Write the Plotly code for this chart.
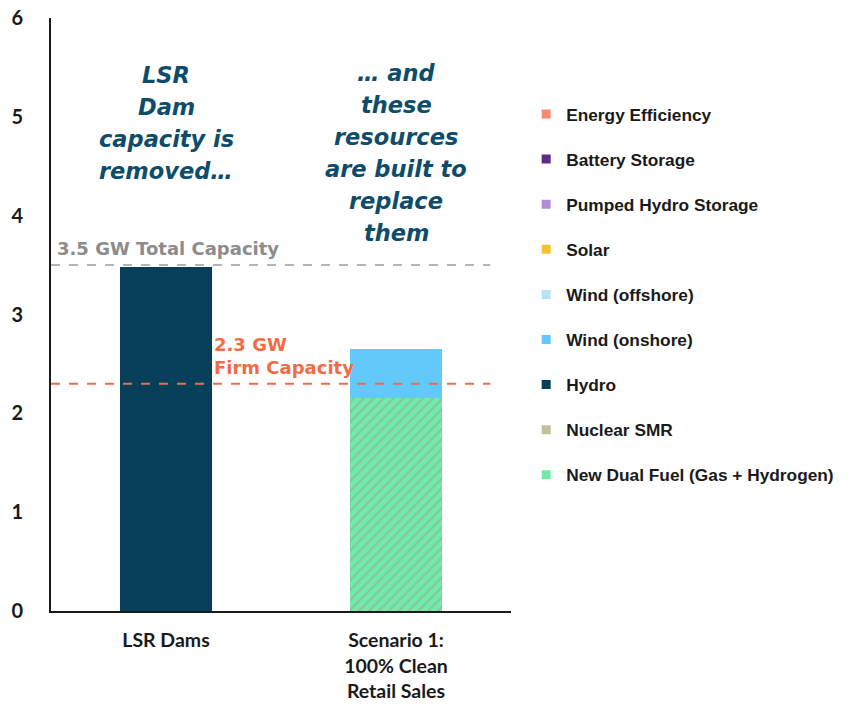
import plotly.graph_objects as go

# Categories on the x axis
categories = ["LSR Dams", "Scenario 1:<br>100% Clean<br>Retail Sales"]

# Capacity (GW) per resource, bottom of stack first
resources = [
    "New Dual Fuel (Gas + Hydrogen)",
    "Nuclear SMR",
    "Hydro",
    "Wind (onshore)",
    "Wind (offshore)",
    "Solar",
    "Pumped Hydro Storage",
    "Battery Storage",
    "Energy Efficiency",
]
dual_fuel = [0.0, 2.16]
nuclear_smr = [0.0, 0.0]
hydro = [3.48, 0.0]
wind_onshore = [0.0, 0.49]
wind_offshore = [0.0, 0.0]
solar = [0.0, 0.0]
pumped_hydro = [0.0, 0.0]
battery = [0.0, 0.0]
energy_eff = [0.0, 0.0]
values = [dual_fuel, nuclear_smr, hydro, wind_onshore, wind_offshore,
          solar, pumped_hydro, battery, energy_eff]

colors = {
    "New Dual Fuel (Gas + Hydrogen)": "#72eba9",
    "Nuclear SMR": "#c4bf9c",
    "Hydro": "#073f5a",
    "Wind (onshore)": "#63c8fa",
    "Wind (offshore)": "#b9e3f4",
    "Solar": "#f6c12f",
    "Pumped Hydro Storage": "#b68bd9",
    "Battery Storage": "#5e2a8c",
    "Energy Efficiency": "#f58a6c",
}

# Reference capacity levels (GW)
total_capacity = 3.5
firm_capacity = 2.3

WIDE = "DejaVu Sans"
SANS = "Liberation Sans"

fig = go.Figure()

x_idx = list(range(len(categories)))
for name, vals in zip(resources, values):
    pattern = None
    if name.startswith("New Dual Fuel"):
        pattern = dict(shape="/", fgcolor="#8fa89a", bgcolor=colors[name],
                       size=7, solidity=0.35, fillmode="overlay")
    fig.add_trace(go.Bar(
        x=x_idx, y=vals, name=name, width=0.4,
        marker=dict(color=colors[name], line=dict(width=0), pattern=pattern),
        showlegend=False,
    ))

# Legend entries, top to bottom
for i, name in enumerate(reversed(resources)):
    fig.add_trace(go.Scatter(
        x=[None], y=[None], mode="markers", name=name,
        legendgroup=f"g{i}",
        marker=dict(symbol="square", size=9, color=colors[name]),
    ))

# Dashed capacity lines
fig.add_shape(type="line", x0=-0.5, x1=1.41, y0=total_capacity, y1=total_capacity,
              line=dict(color="#b5b5b5", width=2, dash="dash"))
fig.add_shape(type="line", x0=-0.5, x1=1.41, y0=firm_capacity, y1=firm_capacity,
              line=dict(color="#f26b45", width=2, dash="dash"))

fig.add_annotation(x=-0.5, y=total_capacity, xref="x", yref="y",
                   text=f"{total_capacity} GW Total Capacity", showarrow=False,
                   xanchor="left", yanchor="bottom", xshift=4, yshift=4,
                   font=dict(family=WIDE, size=18, color="#8c8c8c", weight="bold"))
fig.add_annotation(x=0.2, y=firm_capacity, xref="x", yref="y",
                   text=f"{firm_capacity} GW<br>Firm Capacity", showarrow=False,
                   xanchor="left", yanchor="bottom", align="left", yshift=4,
                   font=dict(family=WIDE, size=18, color="#f26b45", weight="bold"))

# Callout text above each bar, one line at a time
callout_left = ["LSR", "Dam", "capacity is", "removed…"]
callout_right = ["… and", "these", "resources", "are built to", "replace", "them"]
line_px = 32
plot_h = 593.0  # plot height in pixels
for cx, lines, first_y in [(0, callout_left, 75), (1, callout_right, 73)]:
    for k, line in enumerate(lines):
        py = first_y + k * line_px - 18
        fig.add_annotation(x=cx, y=1 - py / plot_h, xref="x", yref="paper",
                           text=line, showarrow=False, xanchor="center", yanchor="middle",
                           font=dict(family=WIDE, size=22.5, color="#0d4d6b",
                                     weight="bold", style="italic"))

fig.update_layout(
    width=856, height=704,
    margin=dict(l=51, r=345, t=18, b=93),
    paper_bgcolor="white", plot_bgcolor="white",
    barmode="stack", bargap=0.6,
    showlegend=True,
    legend=dict(x=1.033, y=0.868, xanchor="left", yanchor="top",
                traceorder="grouped", tracegroupgap=19.6,
                font=dict(family=SANS, size=17.3, color="#1a1a1a", weight="bold"),
                bgcolor="rgba(0,0,0,0)"),
    xaxis=dict(range=[-0.5, 1.5], tickmode="array", tickvals=x_idx, ticktext=categories,
               showline=True, linecolor="#1a1a1a", linewidth=2, ticks="",
               showgrid=False, zeroline=False, ticklabelstandoff=11, automargin=False,
               tickfont=dict(family="Lato", size=19.5, color="#1a1a1a", weight="bold")),
    yaxis=dict(range=[0, 6], dtick=1, showline=True, linecolor="#1a1a1a", linewidth=2,
               ticks="", showgrid=False, zeroline=False, ticklabelstandoff=22, automargin=False,
               tickfont=dict(family="Lato", size=20, color="#1a1a1a", weight="bold")),
)

fig.write_html("out.html")
